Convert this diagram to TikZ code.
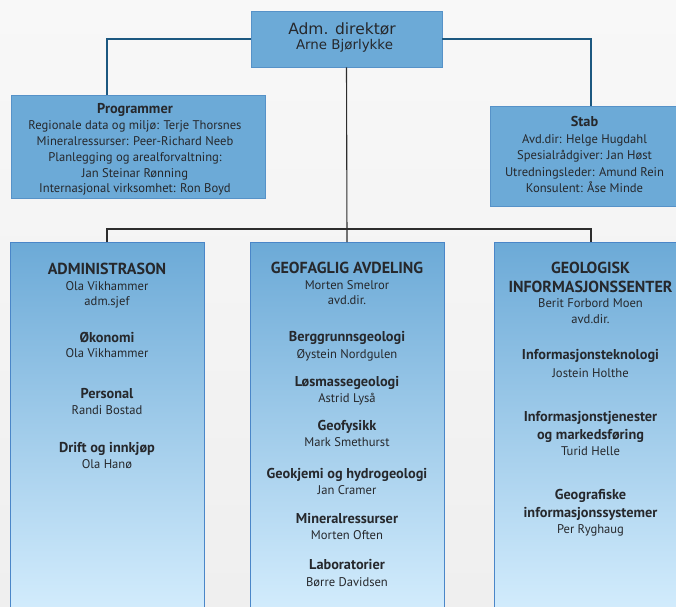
\documentclass[tikz,border=0pt]{standalone}
\usepackage{fontspec}
\setmainfont{PT Sans}
\newfontfamily\admfont{DejaVu Sans}
\definecolor{boxblue}{RGB}{108,170,215}
\definecolor{boxedge}{RGB}{86,146,200}
\definecolor{coledge}{RGB}{74,134,200}
\definecolor{colbot}{RGB}{212,237,253}
\definecolor{txt}{RGB}{38,40,44}
\definecolor{lineblue}{RGB}{28,88,128}
\definecolor{linedark}{RGB}{45,45,45}
\definecolor{bgtop}{RGB}{248,248,248}
\definecolor{bgbot}{RGB}{239,239,239}
\newcommand\Ttl{\bfseries\fontsize{16}{18}\selectfont}
\newcommand\Hd{\bfseries\fontsize{14.3}{16}\selectfont}
\newcommand\Nm{\fontsize{12.6}{14}\selectfont}
\begin{document}
\begin{tikzpicture}[x=1pt,y=-1pt,
  flatbox/.style={draw=boxedge, line width=0.8pt, fill=boxblue, inner sep=0pt},
  colbox/.style={draw=coledge, line width=1pt, top color=boxblue, bottom color=colbot, inner sep=0pt, minimum width=194pt, minimum height=372pt, anchor=north},
  lbl/.style={anchor=base, text=txt, inner sep=0pt},
  blueline/.style={draw=lineblue, line width=1.1pt},
  darkline/.style={draw=linedark, line width=1.1pt}]
\useasboundingbox (0,0) rectangle (676,606);
\clip (0,0) rectangle (676,606);
\fill[top color=bgtop, bottom color=bgbot] (0,0) rectangle (676,606);

% boxes
\node[flatbox, minimum width=191pt, minimum height=56pt] (adm) at (346.5,39) {};
\node[flatbox, minimum width=254pt, minimum height=103pt] (prog) at (138,146.5) {};
\node[flatbox, minimum width=200pt, minimum height=100pt] (stab) at (590,156) {};
\node[colbox] (colA) at (107,242) {};
\node[colbox] (colB) at (347,242) {};
\node[colbox] (colC) at (591,242) {};

% connectors
\draw[blueline] (adm.west) -| (prog.north -| colA.north);
\draw[blueline] (adm.east) -| (stab.north -| colC.north);
\draw[darkline] (adm.south) -- (colB.north);
\draw[darkline] (colA.north) -- ++(0,-13) -| (colC.north);

% top box text
\node[lbl, font=\admfont\fontsize{15.5}{17}\selectfont] (admt1) at (342,34.3) {Adm. direktør};
\node[lbl, font=\admfont\fontsize{13.4}{15}\selectfont] (admt2) at (344.5,49.3) {Arne Bjørlykke};

% Programmer
\foreach \y/\t [count=\i] in {113/{\Hd Programmer},
  129.5/{\Nm Regionale data og miljø: Terje Thorsnes},
  145.5/{\Nm Mineralressurser: Peer-Richard Neeb},
  161/{\Nm Planlegging og arealforvaltning:},
  177/{\Nm Jan Steinar Rønning},
  192.5/{\Nm Internasjonal virksomhet: Ron Boyd}}
  \node[lbl] (p\i) at (135,\y) {\t};

% Stab
\foreach \y/\t [count=\i] in {126.7/{\Hd Stab},
  143/{\Nm Avd.dir: Helge Hugdahl},
  159/{\Nm Spesialrådgiver: Jan Høst},
  176/{\Nm Utredningsleder: Amund Rein},
  192/{\Nm Konsulent: Åse Minde}}
  \node[lbl] (s\i) at (584.5,\y) {\t};

% Administrasjon column
\foreach \y/\t [count=\i] in {274/{\Ttl ADMINISTRASON},
  290/{\Nm Ola Vikhammer},
  305.5/{\Nm adm.sjef},
  342/{\Hd Økonomi},
  357.7/{\Nm Ola Vikhammer},
  398/{\Hd Personal},
  414/{\Nm Randi Bostad},
  452/{\Hd Drift og innkjøp},
  468/{\Nm Ola Hanø}}
  \node[lbl] (a\i) at (107,\y) {\t};

% Geofaglig column
\foreach \y/\t [count=\i] in {273/{\Ttl GEOFAGLIG AVDELING},
  289/{\Nm Morten Smelror},
  304.5/{\Nm avd.dir.},
  341/{\Hd Berggrunnsgeologi},
  358/{\Nm Øystein Nordgulen},
  386/{\Hd Løsmassegeologi},
  402/{\Nm Astrid Lyså},
  430/{\Hd Geofysikk},
  446/{\Nm Mark Smethurst},
  478/{\Hd Geokjemi og hydrogeologi},
  494/{\Nm Jan Cramer},
  523/{\Hd Mineralressurser},
  539/{\Nm Morten Often},
  569/{\Hd Laboratorier},
  586/{\Nm Børre Davidsen}}
  \node[lbl] (g\i) at (347,\y) {\t};

% Geologisk informasjonssenter column
\foreach \y/\t [count=\i] in {273/{\Ttl GEOLOGISK},
  292/{\Ttl INFORMASJONSSENTER},
  307/{\Nm Berit Forbord Moen},
  323/{\Nm avd.dir.},
  359/{\Hd Informasjonsteknologi},
  377/{\Nm Jostein Holthe},
  421/{\Hd Informasjonstjenester},
  439/{\Hd og markedsføring},
  455/{\Nm Turid Helle},
  499/{\Hd Geografiske},
  517/{\Hd informasjonssystemer},
  533/{\Nm Per Ryghaug}}
  \node[lbl] (i\i) at (590.5,\y) {\t};
\end{tikzpicture}
\end{document}
